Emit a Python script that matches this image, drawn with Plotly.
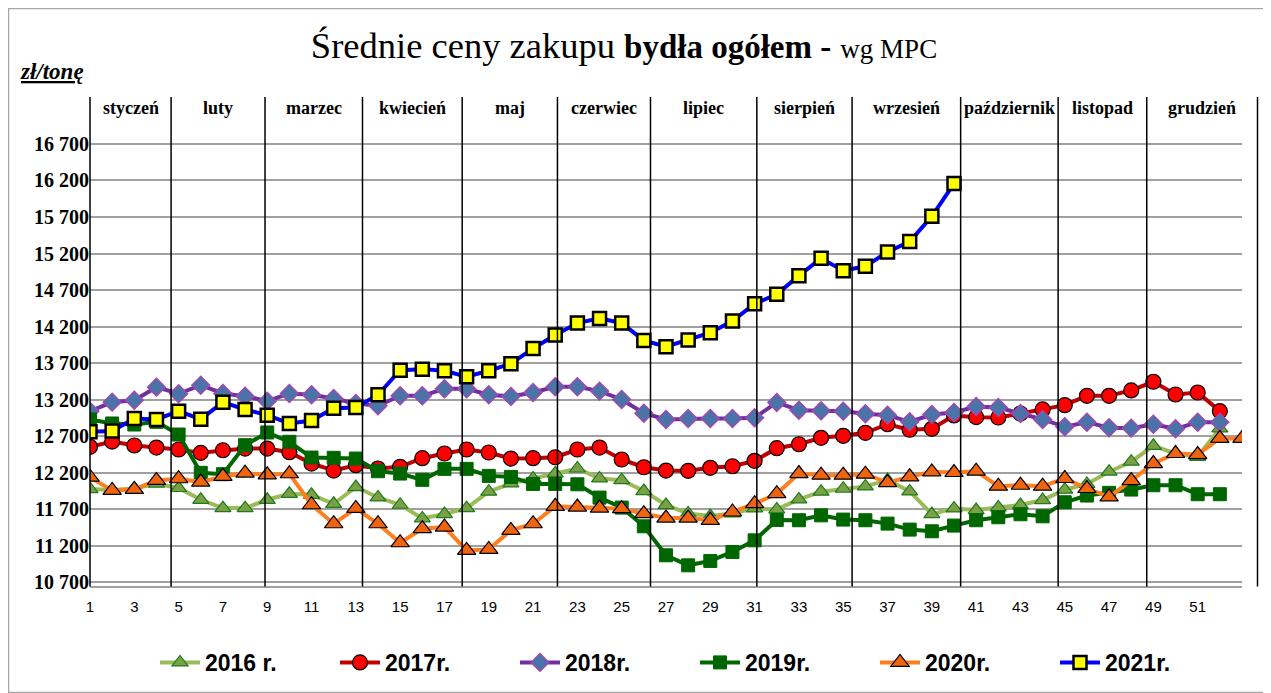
import plotly.graph_objects as go

weeks = list(range(1, 54))

y2016 = [11977, 11965, 11985, 12050, 11991, 11830, 11716, 11716, 11830, 11912,
         11898, 11775, 12004, 11862, 11762, 11574, 11635, 11716, 11941, 12054,
         12122, 12190, 12258, 12122, 12099, 11949, 11758, 11643, 11607, 11643,
         11712, 11698, 11835, 11941, 11981, 12013, 12100, 11944, 11634, 11712,
         11689, 11726, 11758, 11826, 11968, 12046, 12214, 12351, 12569, 12463,
         12418, 12806]
y2017 = [12555, 12627, 12573, 12545, 12518, 12472, 12508, 12531, 12531, 12481,
         12326, 12230, 12303, 12257, 12281, 12399, 12463, 12518, 12477, 12394,
         12399, 12412, 12518, 12545, 12381, 12275, 12230, 12226, 12267, 12289,
         12363, 12536, 12590, 12678, 12705, 12746, 12864, 12788, 12801, 12984,
         12961, 12956, 13011, 13066, 13125, 13253, 13253, 13326, 13445, 13271,
         13298, 13043]
y2018 = [13043, 13166, 13193, 13371, 13281, 13398, 13285, 13248, 13180, 13285,
         13267, 13216, 13148, 13116, 13253, 13253, 13349, 13349, 13267, 13244,
         13298, 13376, 13376, 13317, 13203, 13015, 12929, 12942, 12942, 12942,
         12952, 13162, 13056, 13048, 13043, 13007, 12988, 12897, 12997, 13025,
         13107, 13093, 13011, 12929, 12829, 12892, 12815, 12810, 12864, 12801,
         12892, 12892]
y2019 = [12929, 12874, 12860, 12897, 12723, 12199, 12180, 12577, 12751, 12623,
         12408, 12404, 12394, 12221, 12189, 12103, 12253, 12253, 12157, 12143,
         12047, 12047, 12042, 11860, 11723, 11467, 11070, 10933, 10993, 11116,
         11275, 11554, 11550, 11617, 11559, 11550, 11504, 11422, 11399, 11477,
         11550, 11591, 11632, 11604, 11796, 11888, 11925, 11970, 12029, 12029,
         11906, 11906]
y2020 = [12140, 11958, 11972, 12095, 12118, 12072, 12149, 12195, 12172, 12186,
         11762, 11502, 11712, 11502, 11242, 11434, 11457, 11137, 11151, 11411,
         11502, 11740, 11730, 11717, 11708, 11640, 11580, 11580, 11549, 11663,
         11776, 11913, 12189, 12166, 12166, 12180, 12066, 12144, 12212, 12203,
         12221, 12016, 12029, 12016, 12121, 11984, 11870, 12093, 12326, 12463,
         12449, 12669, 12669]
y2021 = [12760, 12770, 12942, 12930, 13043, 12933, 13166, 13066, 12988, 12874,
         12915, 13084, 13093, 13267, 13604, 13618, 13596, 13514, 13596, 13692,
         13901, 14084, 14248, 14312, 14248, 14011, 13925, 14015, 14117, 14276,
         14514, 14641, 14897, 15134, 14965, 15025, 15222, 15363, 15709, 16158]

series_names = ["2016 r.", "2017r.", "2018r.", "2019r.", "2020r.", "2021r."]

months = ["styczeń", "luty", "marzec", "kwiecień", "maj", "czerwiec", "lipiec",
          "sierpień", "wrzesień", "październik", "listopad", "grudzień"]
# month separator positions in week units
month_bounds = [1.0, 4.66, 8.9, 13.3, 17.8, 22.1, 26.3, 31.1, 35.4, 40.3, 44.7, 48.7, 53.7]

y_ticks = list(range(10700, 17000, 500))
x_ticks = list(range(1, 52, 2))

styles = [
    dict(line=dict(color="#9BBB59", width=4),
         marker=dict(symbol="triangle-up", size=14, color="#7BA046",
                     line=dict(color="#1E7B1E", width=1.2))),
    dict(line=dict(color="#C00000", width=4),
         marker=dict(symbol="circle", size=15, color="#FF0000",
                     line=dict(color="#000000", width=1.2))),
    dict(line=dict(color="#7030A0", width=4),
         marker=dict(symbol="diamond", size=14, color="#4A74A8",
                     line=dict(color="#B040B0", width=1.2))),
    dict(line=dict(color="#006600", width=4),
         marker=dict(symbol="square", size=13, color="#006600",
                     line=dict(color="#006600", width=1))),
    dict(line=dict(color="#FF7F1E", width=4),
         marker=dict(symbol="triangle-up", size=16, color="#F06410",
                     line=dict(color="#000000", width=1.2))),
    dict(line=dict(color="#0000FF", width=4),
         marker=dict(symbol="square", size=13, color="#FFFF00",
                     line=dict(color="#000000", width=2.5))),
]

data = [y2016, y2017, y2018, y2019, y2020, y2021]

fig = go.Figure()
for name, ys, st in zip(series_names, data, styles):
    fig.add_trace(go.Scatter(x=weeks[:len(ys)], y=ys, mode="lines+markers",
                             name=name, line=st["line"], marker=st["marker"]))

# the page body adds an 8px offset; work in reference-screen pixels
OFF = 8
W, H = 1271 - OFF, 693 - OFF
L, R, T, B = 90 - OFF, 1242 - OFF, 122 - OFF, 585.6 - OFF
pw, ph = R - L, B - T


def px_x(p):
    return (p - OFF - L) / pw


def px_y(p):
    return (B - (p - OFF)) / ph


def wk_x(w):
    return (w - 1) / (53 - 1)


shapes = []
# outer border
shapes.append(dict(type="rect", xref="paper", yref="paper",
                   x0=px_x(8.5), x1=px_x(1268.5), y0=px_y(692), y1=px_y(8.5),
                   line=dict(color="#A6A6A6", width=1.5), fillcolor="rgba(0,0,0,0)",
                   layer="below"))
for b in month_bounds:
    shapes.append(dict(type="line", xref="paper", yref="paper",
                       x0=wk_x(b), x1=wk_x(b), y0=px_y(586), y1=px_y(97),
                       line=dict(color="#000000", width=1.5), layer="above"))

annotations = []
for i, m in enumerate(months):
    c = (month_bounds[i] + month_bounds[i + 1]) / 2
    annotations.append(dict(xref="paper", yref="paper", x=wk_x(c), y=px_y(108),
                            text="<b>%s</b>" % m, showarrow=False,
                            xanchor="center", yanchor="middle",
                            font=dict(family="Liberation Serif", size=18, color="#000000")))
annotations.append(dict(xref="paper", yref="paper", x=px_x(18), y=px_y(72),
                        text="<b><i><u>zł/tonę</u></i></b>", showarrow=False,
                        xanchor="left", yanchor="middle",
                        font=dict(family="Liberation Serif", size=23, color="#000000")))

fig.update_layout(
    width=W, height=H,
    margin=dict(l=L, r=W - R, t=T, b=H - B, autoexpand=False),
    paper_bgcolor="white", plot_bgcolor="white",
    separators=", ",
    title=dict(text="Średnie ceny zakupu "
                    "<span style='font-size:33px'><b>bydła ogółem</b> <b>-</b></span> "
                    "<span style='font-size:27px'>wg MPC</span>",
               x=(624 - OFF) / W, xanchor="center", y=1 - (45 - OFF) / H, yanchor="middle",
               xref="container", yref="container",
               font=dict(family="Liberation Serif", size=36.5, color="#000000")),
    xaxis=dict(range=[1, 53], tickmode="array", tickvals=x_ticks,
               ticktext=[str(t) for t in x_ticks], showgrid=False, zeroline=False,
               showline=True, linecolor="#A0A0A0", linewidth=1.5, ticks="",
               ticklabelstandoff=6,
               tickfont=dict(family="Liberation Sans", size=15, color="#000000")),
    yaxis=dict(range=[10650, 17000], tickmode="array", tickvals=y_ticks,
               tickformat=",d", showgrid=True, gridcolor="#A0A0A0", gridwidth=1.5,
               zeroline=False, showline=False, ticks="",
               tickfont=dict(family="Liberation Serif", size=20, color="#000000",
                             weight="bold")),
    legend=dict(orientation="h", x=px_x(155), y=px_y(662), xanchor="left",
                yanchor="middle", entrywidth=125, entrywidthmode="pixels",
                itemwidth=40,
                font=dict(family="Liberation Sans", size=23, color="#000000",
                          weight="bold"),
                bgcolor="rgba(0,0,0,0)"),
    shapes=shapes, annotations=annotations, showlegend=True,
)

fig.write_html("out.html")
